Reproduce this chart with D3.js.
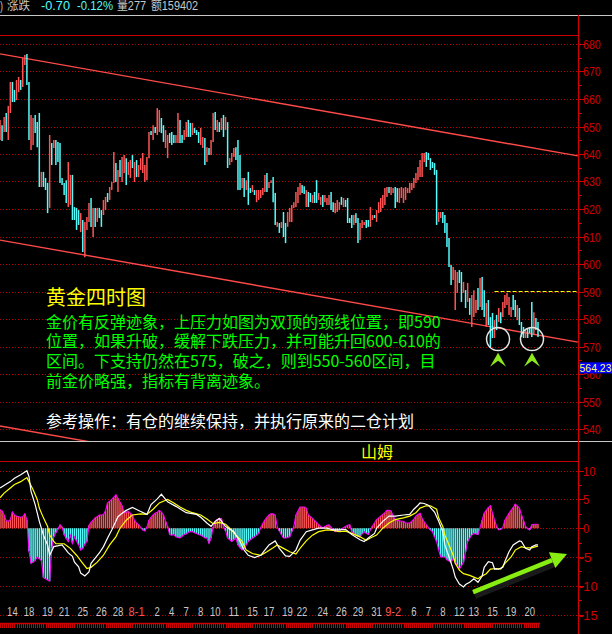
<!DOCTYPE html>
<html><head><meta charset="utf-8">
<script src="https://cdn.jsdelivr.net/npm/d3@7"></script>
<style>html,body{margin:0;padding:0;background:#000;overflow:hidden}</style>
</head><body><svg id="c" width="612" height="634"></svg>
<script>
// ---------------- DATA ----------------
const highs=[652.4,650.5,653.5,654.9,657.5,666.2,666.2,663.3,666.9,668.0,666.9,674.9,676.0,676.4,666.2,654.2,653.1,654.2,651.6,654.9,633.5,633.5,631.3,629.5,646.9,644.0,645.1,645.1,644.4,644.0,631.3,629.5,630.5,637.1,632.4,632.4,620.7,620.4,619.6,618.5,616.0,615.3,617.1,622.2,624.0,620.4,620.4,620.4,620.4,619.6,623.3,624.4,625.8,628.0,629.8,640.7,636.7,634.2,637.8,638.9,639.6,638.5,637.1,637.8,639.6,637.1,637.8,636.0,638.5,640.4,
636.0,638.9,648.0,648.4,650.5,649.8,656.7,656.0,653.1,650.5,648.7,646.9,647.6,648.0,646.9,646.9,654.9,652.4,646.9,648.7,651.6,652.4,651.3,651.3,649.5,648.7,648.0,649.5,646.2,645.8,642.5,642.2,645.1,654.9,655.3,652.4,651.6,653.1,654.2,653.5,651.6,638.5,640.4,642.2,642.5,645.1,639.6,631.3,631.3,630.5,633.5,627.6,628.7,626.9,626.9,626.9,626.9,627.6,632.4,633.1,629.8,630.5,631.6,625.8,615.3,614.9,615.3,618.9,614.9,618.9,620.4,
621.5,622.5,626.2,628.0,629.5,628.7,628.3,626.9,626.2,625.8,625.1,626.2,630.5,625.8,624.4,625.1,625.1,624.0,625.1,626.2,622.5,622.2,623.3,622.5,624.4,624.0,623.3,624.0,616.7,617.8,617.8,618.5,616.7,614.9,616.0,615.3,616.0,616.0,620.7,617.8,617.8,619.6,622.5,624.0,625.1,627.6,628.0,628.0,628.0,627.6,628.0,627.6,627.6,628.0,627.6,628.0,627.6,629.5,629.5,631.3,633.1,635.3,637.8,640.4,640.4,640.7,640.4,638.5,637.1,636.7,
634.2,
618.9,618.9,618.9,617.8,614.9,609.5,599.6,598.9,597.8,597.1,597.8,597.1,593.5,590.5,593.1,587.6,588.7,590.5,586.9,591.3,594.9,595.3,590.5,585.8,586.9,580.7,582.2,579.6,581.5,584.0,582.5,586.2,588.7,589.5,588.0,584.4,588.7,586.9,585.1,584.0,578.9,577.1,576.0,576.7,576.7,586.2,582.5,580.4,578.9];
const lows=[645.1,644.7,648.0,648.0,645.1,654.9,658.9,658.9,659.6,662.5,663.3,664.4,672.4,665.1,645.1,641.5,643.3,647.6,642.5,628.0,628.0,628.0,626.9,618.5,620.4,636.0,642.2,636.0,637.1,629.5,628.7,625.1,622.2,620.7,621.5,616.0,616.0,612.4,614.2,611.6,604.4,602.5,612.4,615.3,613.5,609.8,613.5,615.3,616.7,613.5,617.8,619.6,622.5,623.3,626.9,629.5,629.8,626.2,631.6,629.8,633.1,628.7,632.4,631.3,634.9,629.8,631.6,631.6,634.2,633.1,
629.8,630.5,638.5,646.9,645.1,647.6,646.9,648.0,647.6,644.4,642.2,638.5,644.0,643.3,644.0,644.0,644.0,644.0,644.0,645.1,646.2,646.2,646.2,646.9,647.6,646.9,644.0,643.3,642.2,636.0,637.1,639.6,639.6,644.4,648.7,648.0,648.0,648.7,646.2,648.7,634.9,636.0,637.1,638.9,637.8,626.9,626.9,627.6,624.4,626.9,621.5,625.8,626.2,625.1,622.5,623.3,624.0,625.1,626.2,626.2,627.6,629.5,622.5,614.2,613.5,611.3,613.1,609.8,607.6,613.5,615.3,
615.3,620.4,620.7,622.2,625.1,625.8,625.5,620.7,620.7,622.5,622.2,622.2,622.2,623.3,621.5,620.7,622.5,621.5,621.5,619.6,618.9,618.5,618.9,619.6,621.5,620.7,620.7,614.9,614.9,613.1,614.2,614.9,607.6,608.7,613.1,614.2,613.1,613.5,613.5,616.0,616.7,615.3,618.5,618.9,620.4,621.5,624.4,625.8,625.1,625.8,620.4,622.5,622.2,624.0,622.2,623.3,625.8,625.8,626.9,627.6,629.5,630.5,631.6,631.6,637.1,635.3,637.8,634.2,634.9,632.4,
614.2,
615.3,616.7,614.9,611.3,606.2,598.9,592.4,594.2,583.3,589.5,593.1,586.2,589.5,584.0,586.2,581.5,577.1,580.7,582.2,583.3,584.4,583.3,580.7,577.1,577.8,569.8,573.1,573.1,576.0,578.9,578.5,580.7,584.0,585.1,581.5,580.7,583.3,580.7,579.6,577.8,573.5,573.1,573.1,573.1,574.9,573.5,574.2,576.0,573.5];
// 1 = rising bar (red), 0 = falling bar (cyan)
const rises=[1,0,1,0,1,1,0,0,1,1,0,1,1,0,0,1,1,0,0,0,1,0,0,0,1,0,1,0,0,0,0,0,0,1,1,0,0,0,0,1,0,1,1,1,0,1,0,1,0,0,1,1,0,1,1,1,0,1,0,1,1,0,1,1,0,1,0,1,1,1,
1,1,1,0,1,0,1,1,0,0,1,1,0,0,0,1,1,0,0,1,1,0,0,1,0,0,0,1,1,0,1,0,1,1,0,1,0,1,0,1,0,1,1,1,0,0,0,1,0,1,0,0,1,0,1,1,1,1,1,0,1,1,0,0,1,0,1,0,0,1,1,
1,1,1,1,1,0,0,1,0,0,1,0,0,1,1,0,1,1,1,0,0,1,1,1,0,1,0,0,0,0,1,0,0,1,1,1,0,0,1,1,0,1,1,1,1,1,1,0,1,1,0,0,1,1,1,1,1,1,1,1,1,1,1,1,1,0,0,0,0,0,
0,
1,1,0,0,0,0,0,1,1,1,0,0,1,0,1,0,1,1,1,0,1,0,0,1,0,0,0,1,0,1,0,1,1,1,1,1,0,0,1,0,0,0,1,0,0,0,1,0,0];

const macdHist=[3.2,3.0,2.3,1.3,1.2,1.5,2.8,2.3,2.1,2.0,1.9,2.0,2.5,1.5,-4.0,-6.1,-5.9,-5.6,-5.0,-5.3,-5.6,-8.6,-8.8,-9.0,-9.2,-3.5,-1.5,-0.8,-0.2,0.6,0.2,-1.1,-1.8,-2.3,-1.2,-2.6,-1.5,-2.2,-2.9,-3.8,-3.5,-2.8,-2.3,0.5,1.0,1.4,1.8,2.0,2.3,2.3,
2.4,3.0,4.4,4.7,5.0,5.4,5.8,5.2,4.5,3.9,2.7,2.8,2.9,2.6,2.3,1.3,0.9,0.6,0.1,-0.3,-0.5,0.2,1.4,1.9,2.3,2.6,2.8,3.1,2.8,2.3,1.2,0.3,-1.1,-1.2,-1.1,-1.5,-1.6,-1.7,-1.4,-1.1,-1.0,-0.7,-0.6,-0.6,-0.8,-0.9,-1.1,-1.2,-1.4,-1.7,
-1.7,-2.6,-1.7,0.2,1.2,1.5,1.6,1.7,0.3,-0.5,-1.7,-2.0,-2.3,-2.0,-1.7,-2.9,-3.4,-3.8,-3.5,-2.9,-2.3,-2.0,-1.7,-1.5,-1.2,-0.9,0.1,0.8,1.4,1.9,2.3,2.5,2.5,2.3,0.2,-0.5,-1.1,-1.7,-1.7,-1.6,-1.5,-0.6,0.3,2.3,3.0,3.7,3.7,3.7,3.5,2.3,
2.0,1.7,1.3,1.0,0.6,0.3,0.1,0.3,0.5,0.6,0.2,-0.3,-0.6,-0.5,-0.4,-0.2,0.1,0.3,0.5,0.6,-0.6,-0.9,-1.2,-1.4,-1.5,-1.0,-0.6,-0.9,-1.1,-0.3,0.4,0.9,1.5,1.8,2.1,2.4,2.7,3.1,3.1,3.0,2.1,1.5,1.4,1.3,1.2,1.2,0.9,0.9,0.9,1.2,
1.6,2.1,2.4,2.6,1.7,1.1,0.6,0.1,-0.3,-0.6,-1.5,-2.3,-3.8,-5.0,-5.0,-5.0,-5.5,-5.7,-5.9,-5.3,-5.9,-6.5,-7.1,-6.5,-5.9,-4.1,-2.3,-1.7,-1.2,-0.9,-1.0,-1.1,0.1,1.4,2.6,3.1,3.6,3.9,2.6,1.4,0.3,-0.3,-0.2,0.1,1.4,2.0,2.6,3.1,3.6,4.2,
3.9,3.5,2.3,1.3,0.3,-0.1,-0.3,0.6,0.7,0.7,0.7];

// DIF (white) and DEA (yellow) as [bar index, value]
const difLine=[[0,7.0],[5,8.1],[7,8.7],[10,9.3],[13,10.0],[14,9.0],[15,6.4],[17,4.1],[19,1.2],[21,-1.2],[23,-2.9],[24,-4.7],[26,-3.2],[30,-2.9],[33,-4.3],[35,-4.9],[36,-5.9],[38,-6.7],[39,-7.8],[41,-8.3],[43,-7.6],[44,-6.1],[46,-5.2],[48,-4.3],[50,-3.2],[52,-1.7],[54,-0.3],[56,1.2],[57,2.0],[59,2.6],[61,3.1],[64,3.6],[68,2.9],[71,2.4],[73,4.1],[76,5.1],[78,5.9],[81,4.6],[85,3.8],[90,2.7],[95,2.4],[97,1.9],[100,0.9],[102,0.3],[104,1.2],[106,1.7],[109,0.3],[113,-0.6],[116,-2.3],[118,-3.8],[120,-4.7],[123,-5.1],[126,-4.7],[128,-3.8],[130,-2.9],[133,-2.2],[135,-3.5],[138,-4.8],[140,-4.9],[143,-3.8],[145,-2.1],[148,-0.6],[151,-0.3],[154,0],[158,0],[161,-0.3],[164,-0.3],[167,-0.2],[170,-1.1],[174,-2.0],[176,-2.3],[178,-1.7],[181,-0.9],[182,0],[185,1.2],[188,2.1],[191,2.1],[195,2.3],[198,2.4],[200,3.3],[202,4.0],[203,4.4],[205,4.3],[207,4.0],[210,2.8],[212,1.2],[214,-0.6],[215,-2.9],[217,-5.0],[219,-7.1],[220,-8.5],[222,-9.7],[224,-10.2],[225,-9.8],[227,-9.4],[229,-8.8],[231,-9.4],[233,-8.3],[234,-6.8],[236,-5.8],[238,-6.0],[239,-7.1],[241,-7.1],[243,-6.8],[244,-5.8],[246,-4.1],[248,-2.9],[251,-2.2],[252,-2.3],[254,-3.5],[256,-3.8],[257,-3.2],[259,-2.9],[260,-2.9]];
const deaLine=[[0,5.3],[2,6.1],[5,7.0],[7,7.6],[10,8.1],[13,8.8],[14,8.1],[16,6.7],[18,5.0],[19,3.5],[21,1.8],[23,0.3],[24,-1.2],[26,-2.3],[27,-2.7],[31,-2.7],[34,-3.5],[37,-4.7],[40,-6.1],[42,-7.0],[44,-6.8],[47,-5.9],[50,-4.7],[53,-2.9],[56,-1.5],[58,0],[61,1.4],[64,2.3],[68,2.5],[71,2.4],[74,3.3],[77,4.4],[81,5.0],[84,4.4],[87,3.7],[90,3.1],[93,2.7],[97,2.3],[100,1.6],[103,0.8],[106,1.0],[109,0.7],[111,0],[114,-1.2],[117,-2.3],[119,-3.8],[122,-4.4],[126,-4.7],[129,-4.1],[132,-3.4],[134,-2.9],[137,-3.5],[140,-4.1],[143,-4.5],[145,-3.5],[148,-2.2],[151,-1.2],[154,-0.6],[158,-0.3],[161,-0.4],[164,-0.6],[167,-0.5],[170,-0.9],[174,-1.5],[177,-2.1],[179,-1.7],[182,-1.2],[185,0],[188,0.9],[191,1.5],[195,1.8],[198,2.1],[201,2.7],[203,3.5],[206,3.9],[208,3.9],[211,3.3],[212,1.8],[214,0.3],[215,-1.2],[217,-2.9],[219,-4.7],[220,-6.1],[222,-7.3],[224,-7.9],[227,-8.2],[229,-8.5],[231,-8.8],[232,-8.5],[235,-7.9],[237,-7.1],[240,-7.0],[242,-7.1],[244,-6.1],[247,-5.0],[249,-3.8],[252,-3.2],[254,-3.4],[257,-3.4],[259,-3.2],[260,-3.1]];

const priceTicks=[680,670,660,650,640,630,620,610,600,590,580,570,560,550,540];
const priceMinorTicks=[675,665,655,645,635,625,615,605,595,585,575,565,555,545];
const macdTicks=[10,5,0,-5,-10,-15];
const macdMinorTicks=[7.5,2.5,-2.5,-7.5,-12.5];
const dateLabels=["14","18","19","21","25","26","28","8-1","2","4","7","8","10","11","15","17","19","22","24","26","29","31","9-2","6","7","8","12","13","15","19","20"];
const dateIdx=[6,14,23,31,40,49,57,66,76,83,90,97,104,113,122,130,139,146,156,165,173,182,190,200,207,214,222,229,238,247,256];
const monthStart=["8-1","9-2"];
const lastPrice=564.23;
const necklinePrice=590, necklineFrom=239;
const upperTrend=[[0,676.4],[279.3,639.3]];
const lowerTrend=[[0,608.7],[279.3,571.6]];
const baseTrend=[[0,541.1],[279.3,504.0]];
const circleMarks=[[240.7,572.7],[257.1,572.7]];
const arrowMarks=[[240.7,567.7],[257.1,567.7]];
const trendArrow=[[228.6,-11.1],[274.0,-4.5]];
const headerParts=[[")","#c8c8c8"],["涨跌","#c8c8c8"],["-0.70","#54fcfc"],["-0.12%","#54fcfc"],["量277","#c8c8c8"],["额159402","#c8c8c8"]];
const titleText="黄金四时图";
const noteLines=["金价有反弹迹象，上压力如图为双顶的颈线位置，即590","位置，如果升破，缓解下跌压力，并可能升回600-610的","区间。下支持仍然在575，破之，则到550-560区间，目","前金价略强，指标有背离迹象。"];
const adviceText="参考操作：有仓的继续保持，并执行原来的二仓计划";
const indicatorName="山姆";

// ---------------- LAYOUT ----------------
const W=612,H=634,AX=578;
const Y_HEAD=15,Y_PTOP=35,Y_PBOT=441,Y_MTOP=461,Y_STRIP=623;
const RED="#ff5454",CYAN="#54fcfc",GRID="#b80000",AXC="#d00000";
const svg=d3.select("#c");
svg.append("rect").attr("width",W).attr("height",H).attr("fill","#000");

const x=d3.scaleLinear().domain([0,highs.length-1]).range([0,538]);
const yP=d3.scaleLinear().domain([540,680]).range([429,44]);
const yM=d3.scaleLinear().domain([-15,10]).range([614.5,470.7]);

const defs=svg.append("defs");
defs.append("clipPath").attr("id","pclip").append("rect").attr("x",0).attr("y",Y_HEAD+1).attr("width",AX).attr("height",Y_PBOT-Y_HEAD-1);
defs.append("clipPath").attr("id","mclip").append("rect").attr("x",0).attr("y",Y_MTOP+1).attr("width",AX).attr("height",Y_STRIP-Y_MTOP-2);

// header
const hx=[0,7,41,77,117,151], hw=[3,23,29,36,29,47];
const head=svg.append("g");
headerParts.forEach((p,i)=>{
  head.append("text").attr("x",hx[i]).attr("y",10).attr("fill",p[1])
    .attr("font-family","'Liberation Sans','Noto Sans CJK SC',sans-serif").attr("font-size",12)
    .attr("textLength",hw[i]).attr("lengthAdjust","spacingAndGlyphs").text(p[0]);
});

// frame lines
svg.append("line").attr("x1",0).attr("x2",W).attr("y1",Y_HEAD+0.5).attr("y2",Y_HEAD+0.5).attr("stroke","#c8c8c8");
svg.append("line").attr("x1",0).attr("x2",AX).attr("y1",Y_PTOP+0.5).attr("y2",Y_PTOP+0.5).attr("stroke","#c80000");
svg.append("line").attr("x1",0).attr("x2",W).attr("y1",Y_PBOT+0.5).attr("y2",Y_PBOT+0.5).attr("stroke","#c8c8c8");
svg.append("line").attr("x1",0).attr("x2",AX).attr("y1",Y_MTOP+0.5).attr("y2",Y_MTOP+0.5).attr("stroke","#c80000");

// price grid
const pg=svg.append("g");
priceTicks.forEach(v=>{
  pg.append("line").attr("x1",0).attr("x2",AX).attr("y1",Math.round(yP(v))+0.5).attr("y2",Math.round(yP(v))+0.5)
    .attr("stroke",GRID).attr("stroke-dasharray","1,2");
});
// macd grid
macdTicks.forEach(v=>{
  pg.append("line").attr("x1",0).attr("x2",AX).attr("y1",Math.round(yM(v))+0.5).attr("y2",Math.round(yM(v))+0.5)
    .attr("stroke",GRID).attr("stroke-dasharray","1,2");
});

// price plot
const pp=svg.append("g").attr("clip-path","url(#pclip)");
const tl=d3.line().x(d=>x(d[0])).y(d=>yP(d[1]));
[upperTrend,lowerTrend,baseTrend].forEach(t=>{
  pp.append("path").attr("d",tl(t)).attr("fill","none").attr("stroke","#ff4a4a").attr("stroke-width",1.4);
});
highs.forEach((h,i)=>{
  pp.append("line").attr("x1",x(i)).attr("x2",x(i)).attr("y1",yP(h)).attr("y2",yP(lows[i]))
    .attr("stroke",rises[i]?RED:CYAN).attr("stroke-width",1.5);
});
// neckline
pp.append("line").attr("x1",x(necklineFrom)).attr("x2",AX).attr("y1",yP(necklinePrice)).attr("y2",yP(necklinePrice))
  .attr("stroke","#ffff00").attr("stroke-width",1.2).attr("stroke-dasharray","4,2");
// circles
circleMarks.forEach(c=>{
  pp.append("circle").attr("cx",x(c[0])).attr("cy",yP(c[1])).attr("r",11.5)
    .attr("fill","none").attr("stroke","#e6e6e6").attr("stroke-width",1.5);
});
// small chevron arrows
arrowMarks.forEach(a=>{
  const cx=x(a[0]), ty=yP(a[1]);
  pp.append("path").attr("d",`M${cx},${ty} L${cx+8},${ty+14} L${cx},${ty+8} L${cx-8},${ty+14} Z`)
    .attr("fill","#8ee81c");
});

// text block
const tf="'Noto Sans CJK SC','Noto Sans CJK JP',sans-serif";
svg.append("text").attr("x",46).attr("y",296.5).attr("dominant-baseline","central")
  .attr("font-family",tf).attr("font-size",20).attr("fill","#ffff00").text(titleText);
const note=svg.append("text").attr("font-family",tf).attr("font-size",16).attr("fill","#00ff00")
  .attr("dominant-baseline","central");
noteLines.forEach((t,i)=>{
  note.append("tspan").attr("x",46).attr("y",320.5+i*19.7).text(t);
});
svg.append("text").attr("x",46).attr("y",420).attr("dominant-baseline","central")
  .attr("font-family",tf).attr("font-size",16).attr("fill","#ffffff").text(adviceText);

// indicator name
svg.append("text").attr("x",377).attr("y",451).attr("text-anchor","middle").attr("dominant-baseline","central")
  .attr("font-family",tf).attr("font-size",16).attr("fill","#ffff00").text(indicatorName);

// macd
const mp=svg.append("g").attr("clip-path","url(#mclip)");
macdHist.forEach((v,i)=>{
  mp.append("line").attr("x1",x(i)).attr("x2",x(i)).attr("y1",yM(0)).attr("y2",yM(v))
    .attr("stroke",v>=0?RED:CYAN).attr("stroke-width",1.5);
});
mp.append("path").attr("d",d3.line().x((d,i)=>x(i)).y(d=>yM(d))(macdHist))
  .attr("fill","none").attr("stroke","#ff00ff").attr("stroke-width",1.1);
const ml=d3.line().x(d=>x(d[0])).y(d=>yM(d[1]));
mp.append("path").attr("d",ml(deaLine)).attr("fill","none").attr("stroke","#ffff00").attr("stroke-width",1.2);
mp.append("path").attr("d",ml(difLine)).attr("fill","none").attr("stroke","#ffffff").attr("stroke-width",1.2);

// big trend arrow
{
  const x1=x(trendArrow[0][0]), y1=yM(trendArrow[0][1]), x2=x(trendArrow[1][0]), y2=yM(trendArrow[1][1]);
  const dx=x2-x1, dy=y2-y1, L=Math.hypot(dx,dy), ux=dx/L, uy=dy/L, nx=-uy, ny=ux;
  const hl=16, hw2=8.5, bx=x2-ux*hl, by=y2-uy*hl;
  const ag=svg.append("g");
  ag.append("line").attr("x1",x1+2).attr("y1",y1+4).attr("x2",bx+2).attr("y2",by+4).attr("stroke","#1a1a1a").attr("stroke-width",6);
  ag.append("line").attr("x1",x1).attr("y1",y1).attr("x2",bx).attr("y2",by).attr("stroke","#88ee11").attr("stroke-width",4.5);
  ag.append("path").attr("d",`M${x2},${y2} L${bx+nx*hw2},${by+ny*hw2} L${bx-nx*hw2},${by-ny*hw2} Z`).attr("fill","#88ee11");
}

// axis
const ax=svg.append("g");
ax.append("line").attr("x1",AX+0.5).attr("x2",AX+0.5).attr("y1",Y_HEAD).attr("y2",H).attr("stroke",AXC).attr("stroke-width",1.2);
const lf="'Liberation Sans',sans-serif";
priceTicks.forEach(v=>{
  const yy=Math.round(yP(v))+0.5;
  ax.append("line").attr("x1",AX).attr("x2",AX+6).attr("y1",yy).attr("y2",yy).attr("stroke",AXC);
  ax.append("text").attr("x",583).attr("y",yy+4.5).attr("fill",AXC).attr("font-family",lf).attr("font-size",13)
    .attr("textLength",String(v).length*5.9).attr("lengthAdjust","spacingAndGlyphs").text(v);
});
priceMinorTicks.forEach(v=>{
  const yy=Math.round(yP(v))+0.5;
  ax.append("line").attr("x1",AX).attr("x2",AX+4).attr("y1",yy).attr("y2",yy).attr("stroke",AXC);
});
macdTicks.forEach(v=>{
  const yy=Math.round(yM(v))+0.5;
  ax.append("line").attr("x1",AX).attr("x2",AX+6).attr("y1",yy).attr("y2",yy).attr("stroke",AXC);
  const s=String(v);
  ax.append("text").attr("x",v<0?579:583).attr("y",yy+4.5).attr("fill",AXC).attr("font-family",lf).attr("font-size",13)
    .attr("textLength",s.length*6.2).attr("lengthAdjust","spacingAndGlyphs").text(s);
});
macdMinorTicks.forEach(v=>{
  const yy=Math.round(yM(v))+0.5;
  ax.append("line").attr("x1",AX).attr("x2",AX+4).attr("y1",yy).attr("y2",yy).attr("stroke",AXC);
});

// last price box
{
  const yy=yP(lastPrice);
  ax.append("rect").attr("x",AX+1).attr("y",yy).attr("width",W-AX-1).attr("height",11).attr("fill","#0000ff");
  ax.append("text").attr("x",AX+1.5).attr("y",yy+9.5).attr("fill","#ffff66").attr("font-family",lf).attr("font-size",11)
    .attr("textLength",32).attr("lengthAdjust","spacingAndGlyphs").text(lastPrice.toFixed(2));
}

// date labels
dateLabels.forEach((d,i)=>{
  svg.append("text").attr("x",x(dateIdx[i])).attr("y",616).attr("text-anchor","middle")
    .attr("fill",monthStart.includes(d)?RED:"#c8c8c8").attr("font-family",lf).attr("font-size",12)
    .attr("textLength",d.length*5.3).attr("lengthAdjust","spacingAndGlyphs").text(d);
});

// time strip
svg.append("line").attr("x1",0).attr("x2",540).attr("y1",Y_STRIP+0.5).attr("y2",Y_STRIP+0.5).attr("stroke","#d00000").attr("stroke-width",1.5);
highs.forEach((h,i)=>{
  svg.append("line").attr("x1",Math.round(x(i))+0.5).attr("x2",Math.round(x(i))+0.5).attr("y1",Y_STRIP).attr("y2",Y_STRIP+5)
    .attr("stroke","#d00000").attr("stroke-width",1);
});
</script></body></html>
